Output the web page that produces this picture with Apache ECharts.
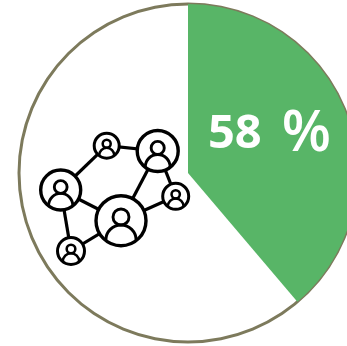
<!DOCTYPE html>
<html><head><meta charset="utf-8">
<style>html,body{margin:0;padding:0;background:#fff}#c{width:347px;height:346px}</style>
<script src="https://cdn.jsdelivr.net/npm/echarts@6/dist/echarts.min.js"></script>
</head><body><div id="c"></div>
<script>
const sliceNames = ['share', 'rest'];
const sliceValues = [38.8, 61.2];
const labelValue = '58';
const labelUnit = '%';
const people = [
  [60.7,190,20],[106.7,145.7,12.5],[157.7,151,20.5],[175.7,196.3,13],[121,220.7,25],[71,251,13.5]
];
const links = [[0,1],[1,2],[2,4],[2,3],[3,4],[0,4],[0,5],[5,4]];
const cx = 188, cy = 173, R = 169;
const ink = '#000';
const els = [];
links.forEach(([a,b])=>{
  els.push({type:'line',z:10,shape:{x1:people[a][0],y1:people[a][1],x2:people[b][0],y2:people[b][1]},style:{stroke:ink,lineWidth:3.2}});
});
people.forEach(([x,y,r])=>{
  const lw = r>18?3.4:3;
  els.push({type:'circle',z:11,shape:{cx:x,cy:y,r:r},style:{fill:'#fff',stroke:ink,lineWidth:lw}});
  els.push({type:'circle',z:12,shape:{cx:x,cy:y-0.15*r,r:0.32*r},style:{fill:'#fff',stroke:ink,lineWidth:lw*0.85}});
  els.push({type:'arc',z:12,shape:{cx:x,cy:y+0.775*r,r:0.605*r,startAngle:Math.PI,endAngle:2*Math.PI},style:{fill:'none',stroke:ink,lineWidth:lw*0.85}});
});
const chart = echarts.init(document.getElementById('c'),null,{renderer:'canvas'});
chart.setOption({
  animation:false,
  backgroundColor:'#fff',
  title:{
    left:203,top:95,
    text:'{a|'+labelValue+'} {b|'+labelUnit+'}',
    textStyle:{rich:{
      a:{fontFamily:'Open Sans',fontWeight:'bold',fontSize:47,color:'#fff',lineHeight:70},
      b:{fontFamily:'Open Sans',fontWeight:600,fontSize:57,color:'#fff',lineHeight:70,padding:[0,0,0,15]}
    }}
  },
  series:[
    {type:'pie',silent:true,center:[cx,cy],radius:[R-1.5,R+1.5],startAngle:90,label:{show:false},labelLine:{show:false},
     data:[{value:1,name:'outline',itemStyle:{color:'#7d7a5c'}}]},
    {type:'pie',silent:true,z:3,center:[cx,cy],radius:[0,R],startAngle:90,clockwise:true,label:{show:false},labelLine:{show:false},
     data:sliceNames.map((n,i)=>({name:n,value:sliceValues[i],itemStyle:{color:i===0?'#58b567':'rgba(255,255,255,0)'}}))}
  ],
  graphic:els
});
</script></body></html>
